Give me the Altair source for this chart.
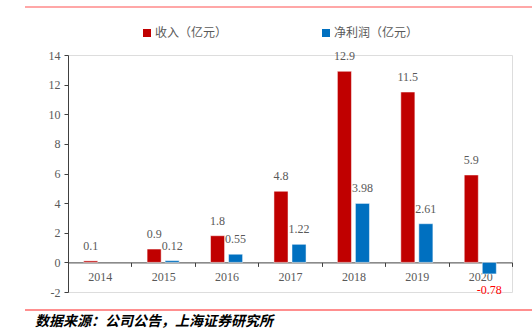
import altair as alt
import pandas as pd

years = ["2014", "2015", "2016", "2017", "2018", "2019", "2020"]
revenue = [0.1, 0.9, 1.8, 4.8, 12.9, 11.5, 5.9]
profit = [None, 0.12, 0.55, 1.22, 3.98, 2.61, -0.78]
series = ["收入（亿元）", "净利润（亿元）"]
colors = ["#C00000", "#0070C0"]
y_ticks = [-2, 0, 2, 4, 6, 8, 10, 12, 14]
source_text = "数据来源：公司公告，上海证券研究所"

rows = []
for y, r, p in zip(years, revenue, profit):
    rows.append({"year": y, "series": series[0], "value": r, "label": str(r)})
    if p is not None:
        rows.append({"year": y, "series": series[1], "value": p, "label": str(p)})
df = pd.DataFrame(rows)

W, H = 444, 237
PL, PT = 68, 55
serif = "Liberation Serif"
cjk = "Noto Sans CJK SC"
gray = "#595959"

x_enc = alt.X("year:N", sort=years, scale=alt.Scale(paddingInner=0, paddingOuter=0),
              axis=alt.Axis(title=None, orient="bottom", offset=-29.6, tickBand="extent",
                            domainColor="#404040", tickColor="#404040", tickSize=4,
                            labelFont=serif, labelFontSize=12, labelColor=gray,
                            labelPadding=5, labelAngle=0))
xoff = alt.XOffset("series:N", sort=series,
                   scale=alt.Scale(domain=series, paddingInner=0.22, paddingOuter=0.87))
y_enc = alt.Y("value:Q", scale=alt.Scale(domain=[-2, 14], nice=False, zero=False),
              axis=alt.Axis(title=None, values=y_ticks, grid=False, domainColor="#404040",
                            tickColor="#404040", tickSize=4, labelFont=serif,
                            labelFontSize=12, labelColor=gray, labelPadding=4,
                            labelOverlap=False, labelExpr="'' + datum.value"))

base = alt.Chart(df)

bars = base.mark_bar(stroke="white", strokeWidth=0.5).encode(
    x=x_enc, xOffset=xoff,
    y=y_enc, y2=alt.datum(0),
    color=alt.Color("series:N", scale=alt.Scale(domain=series, range=colors),
                    legend=alt.Legend(title=None, orient="none", direction="horizontal",
                                      legendX=73, legendY=-28, symbolType="square",
                                      symbolSize=64, symbolStrokeWidth=0,
                                      labelFont=cjk, labelFontSize=12, labelColor=gray,
                                      columnPadding=92, labelOffset=2)),
)

pos_labels = base.transform_filter("datum.value >= 0").mark_text(
    font=serif, fontSize=12, color=gray, baseline="bottom", dy=-8
).encode(x=x_enc, xOffset=xoff, y=y_enc, text="label:N")

neg_labels = base.transform_filter("datum.value < 0").mark_text(
    font=serif, fontSize=12, color="#FF0000", baseline="top", dy=11
).encode(x=x_enc, xOffset=xoff, y=y_enc, text="label:N")

top_line = alt.Chart(pd.DataFrame({"a": [0]})).mark_rule(color="#FF5050", strokeWidth=1.2).encode(
    x=alt.value(25 - PL), x2=alt.value(532 - PL), y=alt.value(7 - PT))
bottom_line = alt.Chart(pd.DataFrame({"a": [0]})).mark_rule(color="#FF2020", strokeWidth=1.2).encode(
    x=alt.value(25 - PL), x2=alt.value(532 - PL), y=alt.value(310 - PT))
src = alt.Chart(pd.DataFrame({"t": [source_text]})).mark_text(
    font=cjk, fontSize=14, fontWeight="bold", fontStyle="italic", align="left",
    baseline="middle", color="#000000"
).encode(x=alt.value(35 - PL), y=alt.value(322 - PT), text="t:N")

chart = alt.layer(bars, pos_labels, neg_labels, top_line, bottom_line, src).properties(
    width=W, height=H,
    autosize=alt.AutoSizeParams(type="none"),
    padding={"left": PL, "top": PT, "right": 532 - PL - W, "bottom": 333 - PT - H},
).configure_view(stroke=None).configure(background="white")

chart.save("out.html", embed_options={"renderer": "svg", "actions": False})
